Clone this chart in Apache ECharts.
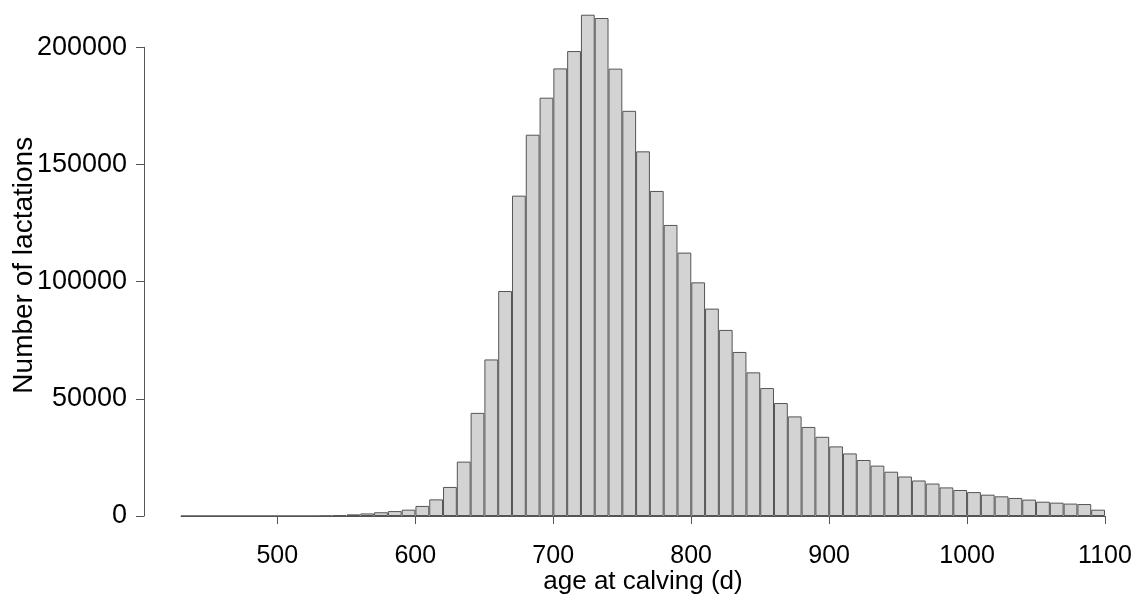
<!DOCTYPE html>
<html>
<head>
<meta charset="utf-8">
<script src="https://cdn.jsdelivr.net/npm/echarts@6/dist/echarts.min.js"></script>
<style>
  html, body { margin: 0; padding: 0; background: #fff; }
  #main { width: 1138px; height: 605px; }
</style>
</head>
<body>
<div id="main"></div>
<script>
// histogram bins, 10 days wide, 430 .. 1100
var binStarts = [];
for (var b = 430; b < 1100; b += 10) binStarts.push(b);

// counts per bin
var counts = [
  0, 0, 0, 0, 0, 0, 0, 0, 0, 0, 100,
  300, 700, 1100, 1600, 2100, 2700, 4300, 7100, 12400, 23200,
  44000, 66800, 96000, 136700, 162700, 178500, 191000, 198400, 213900, 212500,
  190900, 172900, 155600, 138700, 124200, 112400, 99700, 88500, 79400, 70000,
  61300, 54600, 48200, 42500, 38000, 33800, 29700, 26700, 23900, 21500,
  18900, 16850, 15150, 13850, 12200, 11100, 10200, 9100, 8400, 7700,
  7000, 6100, 5700, 5300, 5100, 2700
];

var xTicks = [500, 600, 700, 800, 900, 1000, 1100];
var yTicks = [0, 50000, 100000, 150000, 200000];

var lineColor = '#555';
var labelFont = 'Liberation Sans, Arial, sans-serif';
var plain = function (v) { return String(v); };

var chart = echarts.init(document.getElementById('main'));
var option = {
  animation: false,
  backgroundColor: '#fff',
  grid: [
    // R-style axes (only span the tick range)
    { left: 277.3, right: 33, top: 47.3, bottom: 89 },
    // plotting area of the bars
    { left: 181, right: 33, top: 14.5, bottom: 89 }
  ],
  xAxis: [
    {
      gridIndex: 0,
      type: 'value',
      min: xTicks[0],
      max: xTicks[xTicks.length - 1],
      interval: 100,
      offset: 20,
      axisLine: { lineStyle: { color: lineColor, width: 1 } },
      axisTick: { length: 8, lineStyle: { color: lineColor } },
      axisLabel: { color: '#000', fontSize: 25, fontFamily: labelFont, margin: 8, formatter: plain },
      splitLine: { show: false }
    },
    {
      gridIndex: 1,
      type: 'category',
      data: binStarts,
      boundaryGap: true,
      axisLine: { lineStyle: { color: lineColor, width: 1 } },
      axisTick: { show: false },
      axisLabel: { show: false },
      name: 'age at calving (d)',
      nameLocation: 'middle',
      nameGap: 53,
      nameTextStyle: { color: '#000', fontSize: 26, fontFamily: labelFont }
    }
  ],
  yAxis: [
    {
      gridIndex: 0,
      type: 'value',
      min: yTicks[0],
      max: yTicks[yTicks.length - 1],
      interval: 50000,
      offset: 133.3,
      axisLine: { show: true, lineStyle: { color: lineColor, width: 1 } },
      axisTick: { show: true, length: 8, lineStyle: { color: lineColor } },
      axisLabel: { color: '#000', fontSize: 27, fontFamily: labelFont, margin: 17, formatter: plain },
      splitLine: { show: false }
    },
    {
      gridIndex: 1,
      type: 'value',
      min: 0,
      max: 214000,
      axisLine: { show: false },
      axisTick: { show: false },
      axisLabel: { show: false },
      splitLine: { show: false },
      name: 'Number of lactations',
      nameLocation: 'middle',
      nameGap: 143,
      nameTextStyle: { color: '#000', fontSize: 28, fontFamily: labelFont }
    }
  ],
  series: [
    {
      type: 'bar',
      xAxisIndex: 1,
      yAxisIndex: 1,
      data: counts,
      barWidth: '100%',
      barCategoryGap: 0,
      clip: false,
      itemStyle: { color: '#d3d3d3', borderColor: lineColor, borderWidth: 1 }
    }
  ]
};
chart.setOption(option);
</script>
</body>
</html>
